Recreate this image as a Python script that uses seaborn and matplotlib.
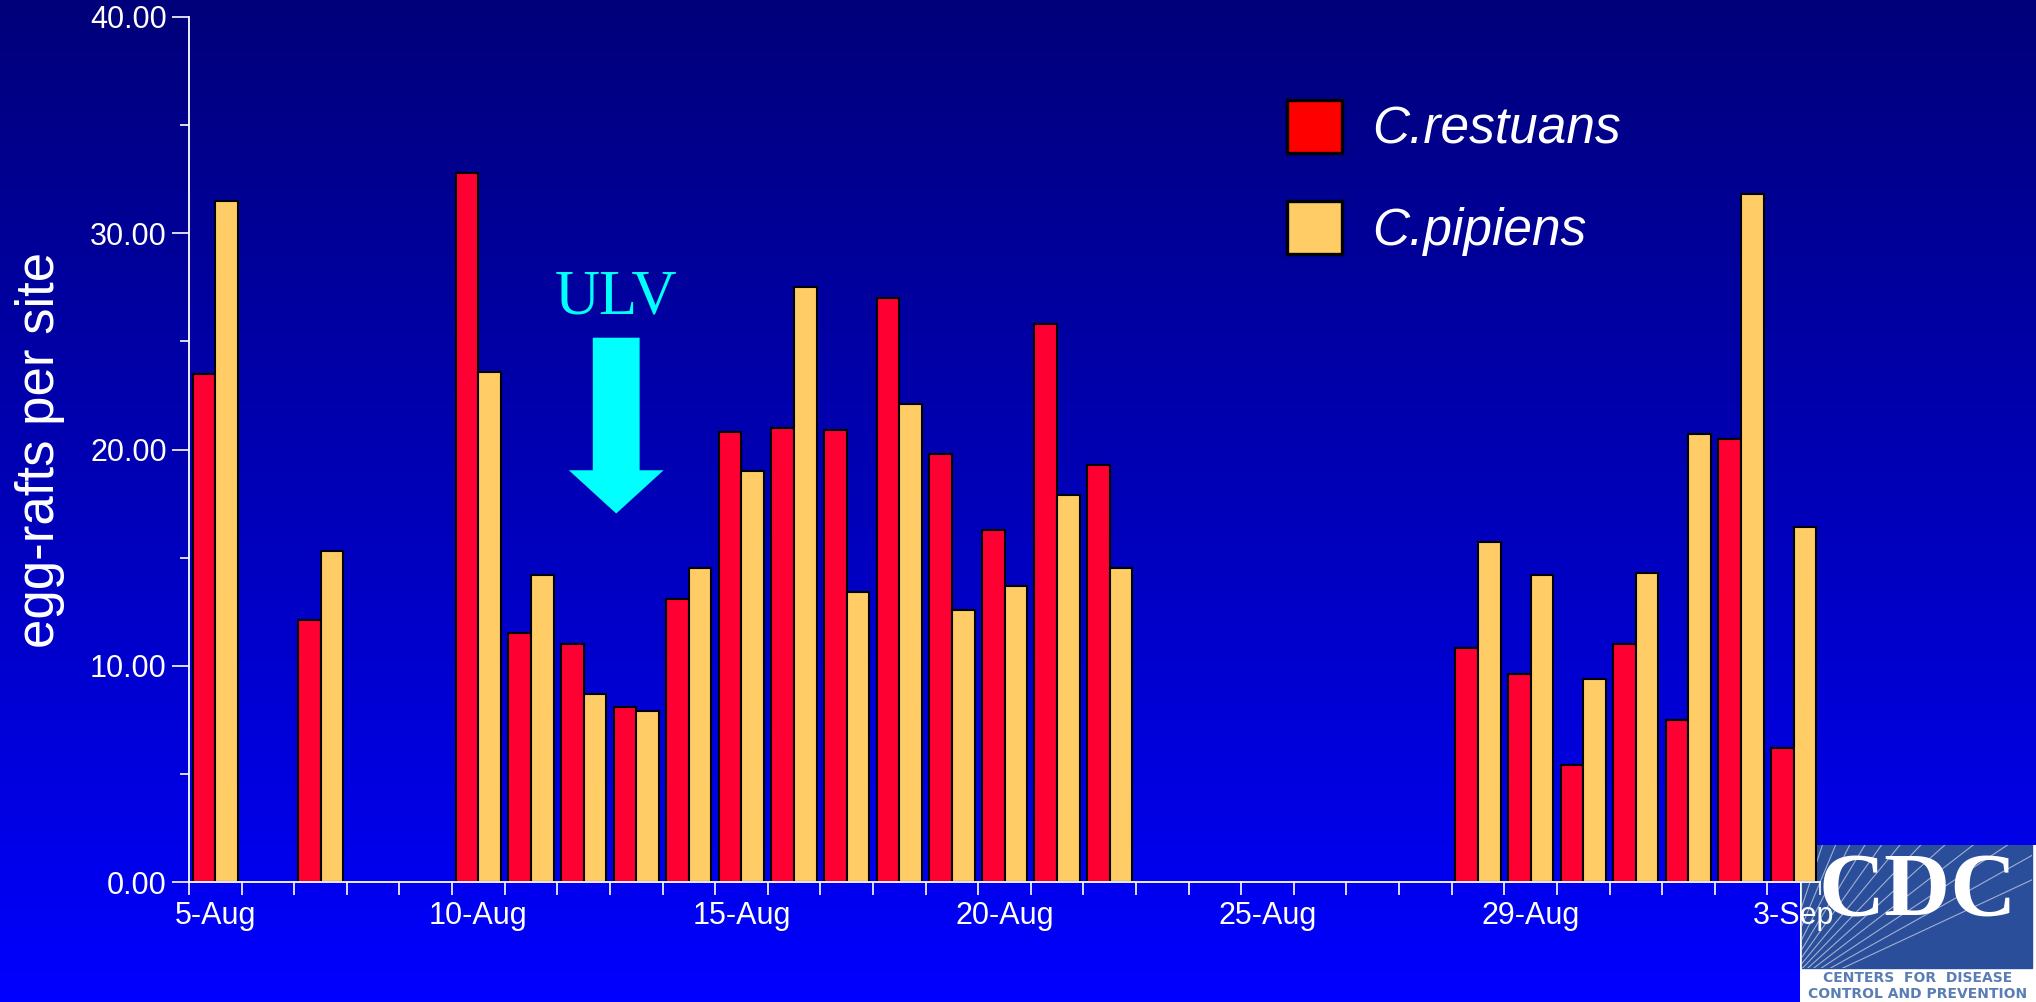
import numpy as np
import pandas as pd
import matplotlib
matplotlib.use('Agg')
import matplotlib.pyplot as plt
from matplotlib.colors import LinearSegmentedColormap
from matplotlib.patches import Patch, FancyArrow, Rectangle
import seaborn as sns

# sampling days are category slots 0..30; only slots with catches are listed
days = [0, 2, 5, 6, 7, 8, 9, 10, 11, 12, 13, 14, 15, 16, 17, 24, 25, 26, 27, 28, 29, 30]
restuans = [23.5, 12.1, 32.8, 11.5, 11.0, 8.1, 13.1, 20.8, 21.0, 20.9, 27.0, 19.8, 16.3, 25.8, 19.3,
            10.8, 9.6, 5.4, 11.0, 7.5, 20.5, 6.2]
pipiens = [31.5, 15.3, 23.6, 14.2, 8.7, 7.9, 14.5, 19.0, 27.5, 13.4, 22.1, 12.6, 13.7, 17.9, 14.5,
           15.7, 14.2, 9.4, 14.3, 20.7, 31.8, 16.4]
n_days = 31
tick_pos = [0, 5, 10, 15, 20, 25, 30]
tick_labels = ['5-Aug', '10-Aug', '15-Aug', '20-Aug', '25-Aug', '29-Aug', '3-Sep']
species = ['C.restuans', 'C.pipiens']
bar_colors = ['#FF0033', '#FFCC66']
legend_colors = ['#FF0000', '#FFCC66']
ulv_day = 7.62

df = pd.DataFrame({
    'day': days * 2,
    'species': [species[0]] * len(days) + [species[1]] * len(days),
    'rafts': restuans + pipiens,
})

sns.set_style('ticks')
plt.rcParams['font.family'] = ['Liberation Sans', 'DejaVu Sans']

fig = plt.figure(figsize=(20.36, 10.02), dpi=100)

# blue gradient background
bg = fig.add_axes([0, 0, 1, 1], zorder=-10)
grad = np.linspace(0, 1, 256).reshape(-1, 1)
cmap = LinearSegmentedColormap.from_list('bg', ['#00007A', '#0000B8', '#0000FF'])
bg.imshow(grad, aspect='auto', cmap=cmap, extent=[0, 1, 0, 1], origin='upper')
bg.axis('off')

# CDC logo in the corner (behind the chart, so bars and the last date label sit on top)
logo = fig.add_axes([1800 / 2036, 0, 236 / 2036, 157 / 1002], zorder=-5)
logo.set_xlim(0, 236)
logo.set_ylim(0, 157)
logo.axis('off')
logo.add_patch(Rectangle((0, 0), 236, 157, color='white'))
panel = Rectangle((2, 34), 230, 123, color='#2B4E9B')
logo.add_patch(panel)
for ang in np.linspace(25, 80, 14):
    t = np.radians(ang)
    line, = logo.plot([-30, -30 + 400 * np.cos(t)], [0, 400 * np.sin(t)], color='white', lw=0.8, alpha=0.55)
    line.set_clip_path(panel)
logo.text(118, 108, 'CDC', ha='center', va='center', fontsize=66, weight='bold',
          family='Liberation Serif', color='white')
logo.text(118, 24, 'CENTERS  FOR  DISEASE', ha='center', va='center', fontsize=10,
          weight='bold', color='#5A7DB5', family='DejaVu Sans')
logo.text(118, 8, 'CONTROL AND PREVENTION', ha='center', va='center', fontsize=10,
          weight='bold', color='#5A7DB5', family='DejaVu Sans')

ax = fig.add_axes([189 / 2036, 1 - 882 / 1002, (1820 - 189) / 2036, (882 - 17) / 1002], zorder=1)
ax.set_facecolor('none')

sns.barplot(data=df, x='day', y='rafts', hue='species', order=list(range(n_days)),
            hue_order=species, palette=bar_colors, width=0.86, saturation=1,
            edgecolor='black', linewidth=1.5, errorbar=None, legend=False, ax=ax)

ax.set_xlim(-0.5, n_days - 0.5)
ax.set_ylim(0, 40)

# x: tick marks between days, labels every 5th slot
ax.set_xticks(np.arange(-0.5, n_days, 1.0))
ax.set_xticks(tick_pos, labels=tick_labels, minor=True)
ax.tick_params(axis='x', which='major', bottom=True, direction='out', length=9.5, width=1.2,
               color='white', labelbottom=False)
ax.tick_params(axis='x', which='minor', bottom=True, length=0, pad=14, labelsize=22,
               labelcolor='white')

ax.set_yticks([0, 10, 20, 30, 40])
ax.set_yticks([5, 15, 25, 35], minor=True)
ax.yaxis.set_major_formatter('{x:.2f}')
ax.tick_params(axis='y', which='major', left=True, direction='out', length=12, width=1.2,
               color='white', pad=4, labelsize=22, labelcolor='white')
ax.tick_params(axis='y', which='minor', left=True, direction='out', length=6.5, width=1.2,
               color='white')

ax.set_xlabel('')
ax.set_ylabel('egg-rafts per site', fontsize=38, color='white')
ax.yaxis.set_label_coords(-0.076, 0.5)

for side in ['top', 'right']:
    ax.spines[side].set_visible(False)
for side in ['left', 'bottom']:
    ax.spines[side].set_color('white')
    ax.spines[side].set_linewidth(1.3)

# ULV spray marker
ax.add_patch(FancyArrow(ulv_day, 25.17, 0, -8.13, width=0.89, head_width=1.8, head_length=2.0,
                        length_includes_head=True, color='#00FFFF', lw=0))
ax.text(ulv_day, 26.3, 'ULV', ha='center', va='baseline', color='#00FFFF', fontsize=45,
        family='Liberation Serif')

handles = [Patch(facecolor=c, edgecolor='black', linewidth=2.4, label=s)
           for c, s in zip(legend_colors, species)]
ax.legend(handles=handles, loc='upper left', bbox_to_anchor=(1287 / 2036, 1 - 100 / 1002),
          bbox_transform=fig.transFigure, frameon=False, labelcolor='white',
          prop=dict(family='Liberation Sans', style='italic', size=37),
          handlelength=1.07, handleheight=1.2, handletextpad=0.58, labelspacing=0.9,
          borderpad=0, borderaxespad=0)

fig.savefig('out.png', dpi=100)
